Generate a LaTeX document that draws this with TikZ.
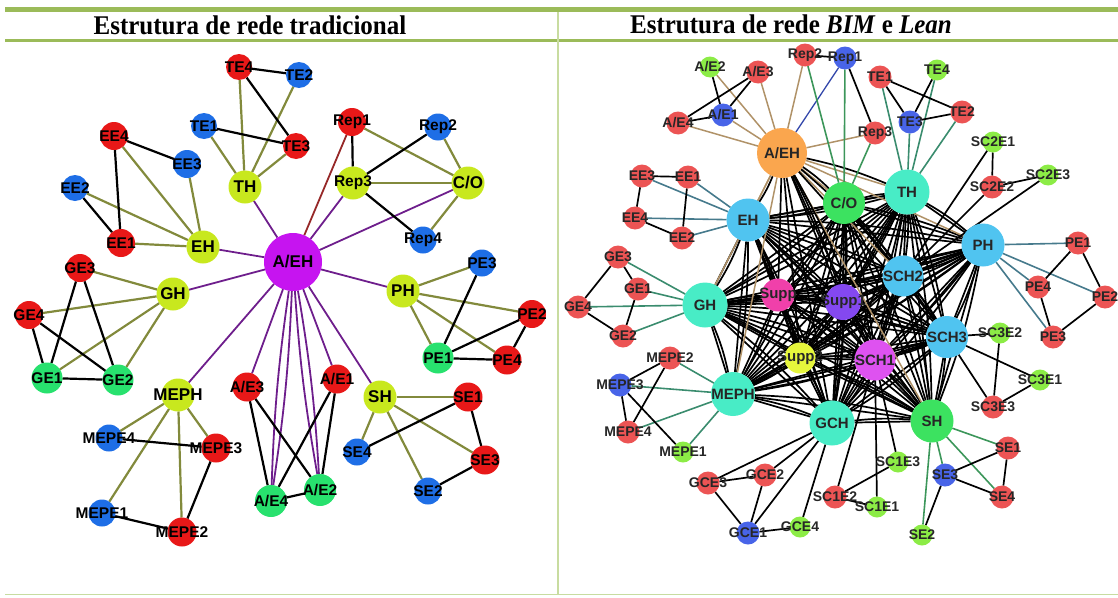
\documentclass[tikz,border=0pt]{standalone}
\usepackage{fontspec}
\setmainfont{Liberation Serif}
\newfontfamily\labfont{Liberation Sans}
\pgfdeclarelayer{links}
\pgfsetlayers{links,main}

% panel frame
\definecolor{barG}{RGB}{155,187,89}
\definecolor{lineG}{RGB}{200,220,160}
% left network
\definecolor{Lred}{RGB}{232,24,24}
\definecolor{Lblue}{RGB}{30,110,230}
\definecolor{Lyg}{RGB}{200,232,30}
\definecolor{Lgreen}{RGB}{40,225,110}
\definecolor{Lpurple}{RGB}{198,20,240}
\definecolor{Eolive}{RGB}{130,138,60}
\definecolor{Epurple}{RGB}{110,30,140}
\definecolor{Ered}{RGB}{150,40,40}
% right network
\definecolor{Rred}{RGB}{236,84,84}
\definecolor{Rblue}{RGB}{72,100,232}
\definecolor{Rlg}{RGB}{140,236,70}
\definecolor{Rorange}{RGB}{250,166,78}
\definecolor{Rgreen}{RGB}{60,226,96}
\definecolor{Raqua}{RGB}{72,236,198}
\definecolor{Rlblue}{RGB}{80,196,240}
\definecolor{Rmag}{RGB}{222,82,240}
\definecolor{Rpink}{RGB}{240,64,170}
\definecolor{Rviolet}{RGB}{132,72,240}
\definecolor{Ryellow}{RGB}{230,246,60}
\definecolor{Etan}{RGB}{176,146,104}
\definecolor{Eteal}{RGB}{58,140,110}
\definecolor{Esteel}{RGB}{70,122,140}
\definecolor{Eblue}{RGB}{50,70,170}
\definecolor{Egreen}{RGB}{60,150,90}

\tikzset{
  vx/.style={circle, inner sep=0pt, outer sep=0pt, minimum size=#1},
  lsm/.style={font=\labfont\bfseries\fontsize{15.5}{15.5}\selectfont, text=black, inner sep=0pt},
  lhub/.style={font=\labfont\bfseries\fontsize{17}{17}\selectfont, text=black, inner sep=0pt},
  rsm/.style={font=\labfont\bfseries\fontsize{14}{14}\selectfont, text=black!85, inner sep=0pt},
  rhub/.style={font=\labfont\bfseries\fontsize{15}{15}\selectfont, text=black!85, inner sep=0pt},
  lol/.style={draw=Eolive, line width=2.2pt},
  lpu/.style={draw=Epurple, line width=1.8pt},
  lbk/.style={draw=black, line width=2.2pt},
  lrd/.style={draw=Ered, line width=1.8pt},
  rbk/.style={draw=black, line width=1.7pt},
  rtan/.style={draw=Etan, line width=1.5pt},
  rteal/.style={draw=Eteal, line width=1.6pt},
  rsteel/.style={draw=Esteel, line width=1.6pt},
  rblu/.style={draw=Eblue, line width=1.3pt},
  rgrn/.style={draw=Egreen, line width=1.6pt},
  title/.style={font=\bfseries\fontsize{25}{25}\selectfont, inner sep=0pt, yscale=1.08}
}
% name, position, text, fill, diameter, label style
\newcommand\vtx[6]{\node[vx=#5, fill=#4, label={[#6]center:#3}] (#1) at (#2) {};}

\begin{document}
\begin{tikzpicture}[x=1pt, y=-1pt]
\useasboundingbox (0,0) rectangle (1118,597);

% ---------- frame and header ----------
\fill[barG] (5,7) rectangle (1118,12);
\fill[barG] (5,39) rectangle (1118,42);
\draw[lineG, line width=1.2pt] (558,12) -- (558,595);
\draw[lineG, line width=1.2pt] (5,594.5) -- (1118,594.5);
\node[title] (t1) at (250,25.5) {Estrutura de rede tradicional};
\node[title] (t2) at (791,24.5) {Estrutura de rede \textit{BIM} e \textit{Lean}};

% ---------- traditional network: nodes ----------
\vtx{lAEH}{293,262}{A/EH}{Lpurple}{58}{lhub}
\vtx{lTH}{245,187}{TH}{Lyg}{33}{lhub}
\vtx{lEH}{203,247}{EH}{Lyg}{33}{lhub}
\vtx{lGH}{173,294}{GH}{Lyg}{33}{lhub}
\vtx{lMEPH}{178,395}{MEPH}{Lyg}{33}{lhub}
\vtx{lSH}{380,397}{SH}{Lyg}{33}{lhub}
\vtx{lPH}{403,291}{PH}{Lyg}{33}{lhub}
\vtx{lRep3}{353,183}{Rep3}{Lyg}{33}{lsm}
\vtx{lCO}{468,183}{C/O}{Lyg}{33}{lhub}
\vtx{lTE4}{239,67}{TE4}{Lred}{26}{lsm}
\vtx{lTE2}{299,75}{TE2}{Lblue}{26}{lsm}
\vtx{lTE1}{204,126}{TE1}{Lblue}{26}{lsm}
\vtx{lTE3}{296,146}{TE3}{Lred}{26}{lsm}
\vtx{lEE4}{114,136}{EE4}{Lred}{28}{lsm}
\vtx{lEE3}{187,164}{EE3}{Lblue}{28}{lsm}
\vtx{lEE2}{75,188}{EE2}{Lblue}{26}{lsm}
\vtx{lEE1}{121,243}{EE1}{Lred}{28}{lsm}
\vtx{lGE3}{80,268}{GE3}{Lred}{28}{lsm}
\vtx{lGE4}{29,315}{GE4}{Lred}{28}{lsm}
\vtx{lGE1}{47,378}{GE1}{Lgreen}{31}{lsm}
\vtx{lGE2}{118,380}{GE2}{Lgreen}{31}{lsm}
\vtx{lMEPE4}{109,438}{MEPE4}{Lblue}{27}{lsm}
\vtx{lMEPE3}{216,448}{MEPE3}{Lred}{29}{lsm}
\vtx{lMEPE1}{102,513}{MEPE1}{Lblue}{27}{lsm}
\vtx{lMEPE2}{182,532}{MEPE2}{Lred}{29}{lsm}
\vtx{lAE3}{247,387}{A/E3}{Lred}{29}{lsm}
\vtx{lAE4}{271,501}{A/E4}{Lgreen}{32}{lsm}
\vtx{lAE2}{320,490}{A/E2}{Lgreen}{32}{lsm}
\vtx{lAE1}{337,379}{A/E1}{Lred}{29}{lsm}
\vtx{lSE1}{468,397}{SE1}{Lred}{29}{lsm}
\vtx{lSE4}{357,452}{SE4}{Lblue}{27}{lsm}
\vtx{lSE3}{485,460}{SE3}{Lred}{29}{lsm}
\vtx{lSE2}{428,491}{SE2}{Lblue}{27}{lsm}
\vtx{lPE1}{438,358}{PE1}{Lgreen}{31}{lsm}
\vtx{lPE4}{507,360}{PE4}{Lred}{29}{lsm}
\vtx{lPE2}{532,314}{PE2}{Lred}{28}{lsm}
\vtx{lPE3}{482,263}{PE3}{Lblue}{27}{lsm}
\vtx{lRep1}{352,122}{Rep1}{Lred}{28}{lsm}
\vtx{lRep2}{438,127}{Rep2}{Lblue}{27}{lsm}
\vtx{lRep4}{423,240}{Rep4}{Lblue}{27}{lsm}

% ---------- BIM and Lean network: nodes ----------
\vtx{rAEH}{782,153}{A/EH}{Rorange}{50}{rhub}
\vtx{rCO}{844,203}{C/O}{Rgreen}{42}{rhub}
\vtx{rTH}{907,192}{TH}{Raqua}{45}{rhub}
\vtx{rEH}{748,220}{EH}{Rlblue}{43}{rhub}
\vtx{rPH}{983,245}{PH}{Rlblue}{43}{rhub}
\vtx{rSCH2}{903,276}{SCH2}{Rlblue}{41}{rhub}
\vtx{rSuppV}{843,302}{Supp1}{Rviolet}{36}{rhub}
\vtx{rSuppP}{778,295}{Supp}{Rpink}{33}{rhub}
\vtx{rGH}{705,305}{GH}{Raqua}{45}{rhub}
\vtx{rSCH3}{947,337}{SCH3}{Rlblue}{42}{rhub}
\vtx{rSCH1}{875,360}{SCH1}{Rmag}{41}{rhub}
\vtx{rSuppY}{800,358}{Supp2}{Ryellow}{31}{rhub}
\vtx{rMEPH}{733,394}{MEPH}{Raqua}{44}{rhub}
\vtx{rGCH}{832,423}{GCH}{Raqua}{45}{rhub}
\vtx{rSH}{932,421}{SH}{Rgreen}{43}{rhub}
\vtx{rAE2}{710,67}{A/E2}{Rlg}{21}{rsm}
\vtx{rAE3}{758,72}{A/E3}{Rred}{23}{rsm}
\vtx{rRep2}{805,55}{Rep2}{Rred}{23}{rsm}
\vtx{rRep1}{845,58}{Rep1}{Rblue}{23}{rsm}
\vtx{rAE1}{723,115}{A/E1}{Rblue}{23}{rsm}
\vtx{rAE4}{678,123}{A/E4}{Rred}{23}{rsm}
\vtx{rTE1}{880,77}{TE1}{Rred}{23}{rsm}
\vtx{rTE4}{937,70}{TE4}{Rlg}{21}{rsm}
\vtx{rTE2}{962,112}{TE2}{Rred}{23}{rsm}
\vtx{rTE3}{910,122}{TE3}{Rblue}{23}{rsm}
\vtx{rRep3}{875,133}{Rep3}{Rred}{23}{rsm}
\vtx{rSCaE1}{993,142}{SC2E1}{Rlg}{21}{rsm}
\vtx{rSCaE2}{992,187}{SC2E2}{Rred}{23}{rsm}
\vtx{rSCaE3}{1048,175}{SC2E3}{Rlg}{21}{rsm}
\vtx{rEE3}{642,176}{EE3}{Rred}{23}{rsm}
\vtx{rEE1}{688,177}{EE1}{Rred}{23}{rsm}
\vtx{rEE4}{635,218}{EE4}{Rred}{23}{rsm}
\vtx{rEE2}{682,238}{EE2}{Rred}{23}{rsm}
\vtx{rPE1}{1078,243}{PE1}{Rred}{23}{rsm}
\vtx{rPE4}{1038,287}{PE4}{Rred}{23}{rsm}
\vtx{rPE2}{1105,297}{PE2}{Rred}{23}{rsm}
\vtx{rPE3}{1053,337}{PE3}{Rred}{23}{rsm}
\vtx{rGE3}{618,257}{GE3}{Rred}{23}{rsm}
\vtx{rGE1}{638,289}{GE1}{Rred}{23}{rsm}
\vtx{rGE4}{578,307}{GE4}{Rred}{23}{rsm}
\vtx{rGE2}{623,336}{GE2}{Rred}{23}{rsm}
\vtx{rSCbE2}{1000,333}{SC3E2}{Rlg}{21}{rsm}
\vtx{rSCbE1}{1040,380}{SC3E1}{Rlg}{21}{rsm}
\vtx{rSCbE3}{993,407}{SC3E3}{Rred}{23}{rsm}
\vtx{rMEPE2}{670,358}{MEPE2}{Rred}{23}{rsm}
\vtx{rMEPE3}{620,385}{MEPE3}{Rblue}{23}{rsm}
\vtx{rMEPE4}{628,432}{MEPE4}{Rred}{23}{rsm}
\vtx{rMEPE1}{683,452}{MEPE1}{Rlg}{21}{rsm}
\vtx{rGCE2}{765,475}{GCE2}{Rred}{23}{rsm}
\vtx{rGCE3}{708,483}{GCE3}{Rred}{23}{rsm}
\vtx{rGCE1}{748,533}{GCE1}{Rblue}{23}{rsm}
\vtx{rGCE4}{800,527}{GCE4}{Rlg}{21}{rsm}
\vtx{rSCcE2}{835,497}{SC1E2}{Rred}{23}{rsm}
\vtx{rSCcE3}{898,462}{SC1E3}{Rlg}{21}{rsm}
\vtx{rSCcE1}{877,507}{SC1E1}{Rlg}{21}{rsm}
\vtx{rSE1}{1008,448}{SE1}{Rred}{23}{rsm}
\vtx{rSE3}{945,475}{SE3}{Rblue}{23}{rsm}
\vtx{rSE4}{1002,497}{SE4}{Rred}{23}{rsm}
\vtx{rSE2}{922,535}{SE2}{Rlg}{21}{rsm}

\begin{pgfonlayer}{links}
% ---------- traditional network: links ----------
\foreach \h in {lTH,lEH,lGH,lMEPH,lAE3,lAE1,lSH,lPH,lRep3,lCO}
  \draw[lpu] (lAEH) -- (\h);
\draw[lpu] (lAEH) to[bend left=3] (lAE4);
\draw[lpu] (lAEH) to[bend right=3] (lAE4);
\draw[lpu] (lAEH) to[bend left=3] (lAE2);
\draw[lpu] (lAEH) to[bend right=3] (lAE2);
\draw[lrd] (lAEH) -- (lRep1);
\foreach \a/\b in {lTH/lTE4,lTH/lTE1,lTH/lTE2,lTH/lTE3,
                   lEH/lEE4,lEH/lEE3,lEH/lEE2,lEH/lEE1,
                   lGH/lGE3,lGH/lGE4,lGH/lGE1,lGH/lGE2,
                   lMEPH/lMEPE4,lMEPH/lMEPE3,lMEPH/lMEPE1,lMEPH/lMEPE2,
                   lSH/lSE1,lSH/lSE3,lSH/lSE2,lSH/lSE4,
                   lPH/lPE3,lPH/lPE2,lPH/lPE1,lPH/lPE4,
                   lCO/lRep1,lCO/lRep2,lCO/lRep3,lCO/lRep4}
  \draw[lol] (\a) -- (\b);
\foreach \a/\b in {lTE4/lTE2,lTE4/lTE3,lTE1/lTE3,
                   lEE4/lEE3,lEE4/lEE1,lEE2/lEE1,
                   lGE3/lGE1,lGE3/lGE2,lGE4/lGE1,lGE4/lGE2,lGE1/lGE2,
                   lMEPE4/lMEPE3,lMEPE3/lMEPE2,lMEPE1/lMEPE2,
                   lAE3/lAE4,lAE3/lAE2,lAE1/lAE4,lAE1/lAE2,lAE4/lAE2,
                   lSE1/lSE4,lSE1/lSE3,lSE3/lSE2,
                   lPE3/lPE1,lPE1/lPE2,lPE1/lPE4,lPE4/lPE2,
                   lRep1/lRep3,lRep2/lRep3,lRep3/lRep4}
  \draw[lbk] (\a) -- (\b);

% ---------- BIM and Lean network: links ----------
\def\hubs{rCO,rTH,rEH,rPH,rSCH2,rGH,rSuppP,rSuppV,rSCH3,rSuppY,rSCH1,rMEPH,rGCH,rSH}
\foreach \a [count=\i] in \hubs {
  \foreach \b [count=\j] in \hubs {
    \ifnum\i<\j
      \draw[rbk] (\a) -- (\b);
      \draw[rbk] (\a) to[bend left=5] (\b);
    \fi
  }
}
\foreach \h in {rEH,rGH,rMEPH,rTH,rPH,rSH,rCO,rSCH2,rAE1,rAE2,rAE3,rAE4,rRep2,rRep3}
  \draw[rtan] (rAEH) -- (\h);
\foreach \h in {rSuppP,rSuppV,rSuppY,rSCH1,rSCH3,rGCH}
  \draw[rbk] (rAEH) -- (\h);
\foreach \h in {rCO,rSCH2,rTH,rEH,rSCH1,rSuppV}
  \draw[rbk] (rAEH) to[bend left=5] (\h);
\draw[rblu] (rAEH) -- (rRep1);
\foreach \a/\b in {rCO/rRep1,rCO/rRep2,rCO/rRep3,
                   rSH/rSE1,rSH/rSE4,rSH/rSE3,rSH/rSE2}
  \draw[rgrn] (\a) -- (\b);
\foreach \a/\b in {rTH/rTE1,rTH/rTE3,rTH/rTE4,rTH/rTE2,
                   rGH/rGE3,rGH/rGE1,rGH/rGE4,rGH/rGE2,
                   rMEPH/rMEPE2,rMEPH/rMEPE3,rMEPH/rMEPE4,rMEPH/rMEPE1}
  \draw[rteal] (\a) -- (\b);
\foreach \a/\b in {rEH/rEE3,rEH/rEE1,rEH/rEE4,rEH/rEE2,
                   rPH/rPE1,rPH/rPE4,rPH/rPE2,rPH/rPE3}
  \draw[rsteel] (\a) -- (\b);
\foreach \a/\b in {rRep1/rRep3,rRep2/rRep1,
                   rAE2/rAE1,rAE3/rAE1,rAE3/rAE4,rAE4/rAE1,
                   rTE1/rTE3,rTE1/rTE2,rTE3/rTE4,rTE3/rTE2,
                   rSCaE1/rSCaE2,rSCaE2/rSCaE3,rSCH2/rSCaE1,rSCH2/rSCaE2,rSCH2/rSCaE3,
                   rEE3/rEE1,rEE3/rEE4,rEE1/rEE2,rEE4/rEE2,
                   rGE3/rGE1,rGE3/rGE4,rGE1/rGE2,rGE4/rGE2,
                   rMEPE2/rMEPE3,rMEPE3/rMEPE4,rMEPE2/rMEPE4,rMEPE3/rMEPE1,
                   rGCH/rGCE3,rGCH/rGCE2,rGCH/rGCE1,rGCH/rGCE4,
                   rGCE3/rGCE2,rGCE3/rGCE1,rGCE2/rGCE1,rGCE1/rGCE4,
                   rSCH1/rSCcE1,rSCH1/rSCcE2,rSCH1/rSCcE3,rSCcE2/rSCcE1,rSCcE2/rSCcE3,
                   rSE1/rSE3,rSE1/rSE4,rSE3/rSE4,rSE3/rSE2,
                   rSCH3/rSCbE2,rSCH3/rSCbE1,rSCH3/rSCbE3,rSCbE2/rSCbE3,rSCbE1/rSCbE3,
                   rPE1/rPE4,rPE1/rPE2,rPE4/rPE3,rPE2/rPE3}
  \draw[rbk] (\a) -- (\b);
\end{pgfonlayer}
\end{tikzpicture}
\end{document}
